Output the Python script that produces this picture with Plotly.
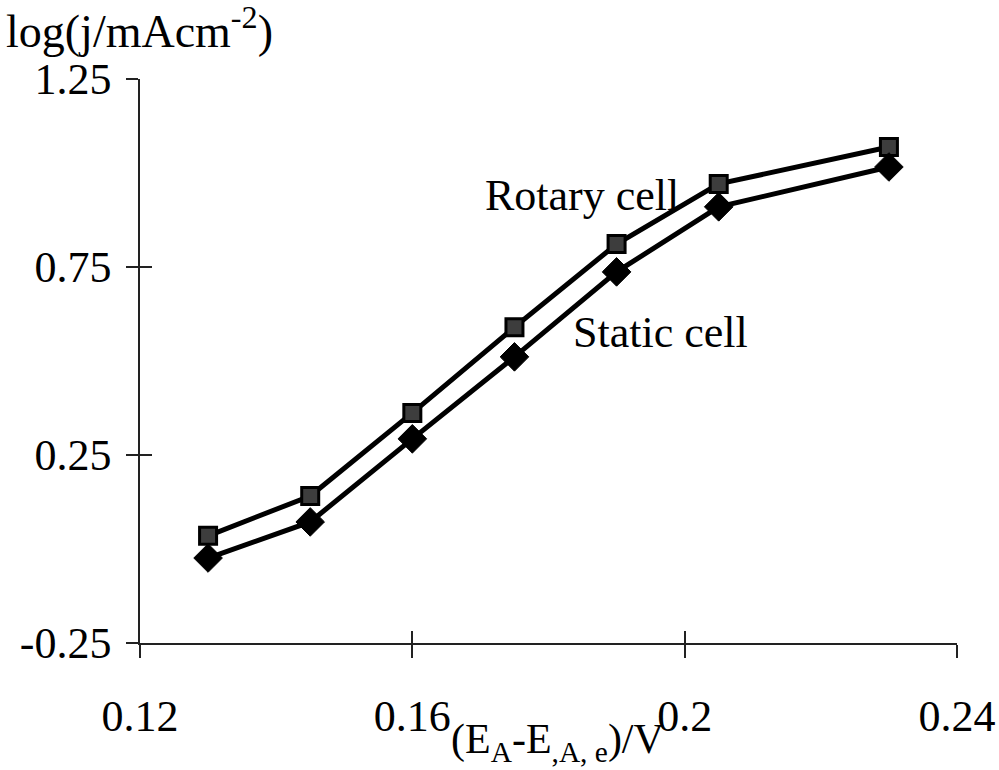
import plotly.graph_objects as go

# Data
potential = [0.13, 0.145, 0.16, 0.175, 0.19, 0.205, 0.23]
rotary_cell = [0.035, 0.141, 0.362, 0.590, 0.811, 0.971, 1.069]
static_cell = [-0.024, 0.072, 0.293, 0.511, 0.737, 0.910, 1.016]

x_ticks = [0.12, 0.16, 0.2, 0.24]
x_tick_labels = ["0.12", "0.16", "0.2", "0.24"]
y_ticks = [-0.25, 0.25, 0.75, 1.25]
y_tick_labels = ["-0.25", "0.25", "0.75", "1.25"]

FONT = "Liberation Serif"
FS = 44

fig = go.Figure()

fig.add_trace(go.Scatter(
    x=potential, y=rotary_cell, mode="lines+markers", name="Rotary cell",
    line=dict(color="black", width=5),
    marker=dict(symbol="square", size=17, color="#3d3d3d",
                line=dict(color="black", width=3)),
    showlegend=False,
))
fig.add_trace(go.Scatter(
    x=potential, y=static_cell, mode="lines+markers", name="Static cell",
    line=dict(color="black", width=5),
    marker=dict(symbol="diamond", size=22, color="black",
                line=dict(color="black", width=1)),
    showlegend=False,
))
# invisible trace to activate the overlay axes (inner half of crossing ticks)
fig.add_trace(go.Scatter(x=[None], y=[None], xaxis="x2", yaxis="y2",
                         showlegend=False, hoverinfo="skip"))

axis_common = dict(showgrid=False, zeroline=False, color="black",
                   automargin=False,
                   tickfont=dict(family=FONT, size=FS, color="black"))

fig.update_layout(
    width=999, height=770,
    margin=dict(l=140, r=42, t=79, b=127),
    paper_bgcolor="white", plot_bgcolor="white",
    xaxis=dict(range=[0.12, 0.24], tickvals=x_ticks, ticktext=x_tick_labels,
               ticks="outside", ticklen=13, tickwidth=1.5, tickcolor="#222",
               showline=True, linecolor="#222", linewidth=1.5,
               ticklabelstandoff=20, **axis_common),
    yaxis=dict(range=[-0.25, 1.25], tickvals=y_ticks, ticktext=y_tick_labels,
               ticks="outside", ticklen=12, tickwidth=1.5, tickcolor="#222",
               showline=True, linecolor="#222", linewidth=1.5,
               ticklabelstandoff=6, **axis_common),
    xaxis2=dict(range=[0.12, 0.24], tickvals=x_ticks, overlaying="x",
                anchor="y2", side="bottom", ticks="inside", ticklen=12,
                tickwidth=1.5, tickcolor="#222", showticklabels=False,
                showline=False, showgrid=False, zeroline=False,
                automargin=False),
    yaxis2=dict(range=[-0.25, 1.25], tickvals=y_ticks, overlaying="y",
                anchor="x2", side="left", ticks="inside", ticklen=12,
                tickwidth=1.5, tickcolor="#222", showticklabels=False,
                showline=False, showgrid=False, zeroline=False,
                automargin=False),
    font=dict(family=FONT, size=FS, color="black"),
)

fig.add_annotation(x=0.1849, y=0.94, xref="x", yref="y", text="Rotary cell",
                   showarrow=False, font=dict(family=FONT, size=FS, color="black"))
fig.add_annotation(x=0.1964, y=0.575, xref="x", yref="y", text="Static cell",
                   showarrow=False, font=dict(family=FONT, size=FS, color="black"))
fig.add_annotation(x=-0.166, y=1.09, xref="paper", yref="paper",
                   xanchor="left", yanchor="middle",
                   text="log(j/mAcm<sup>-2</sup>)", showarrow=False,
                   font=dict(family=FONT, size=46, color="black"))
fig.add_annotation(x=0.378, y=-0.225, xref="paper", yref="paper",
                   xanchor="left", yanchor="bottom",
                   text="(E<sub>A</sub>-E<sub>,A, e</sub>)/V", showarrow=False,
                   font=dict(family=FONT, size=42, color="black"))

fig.write_html("out.html")
